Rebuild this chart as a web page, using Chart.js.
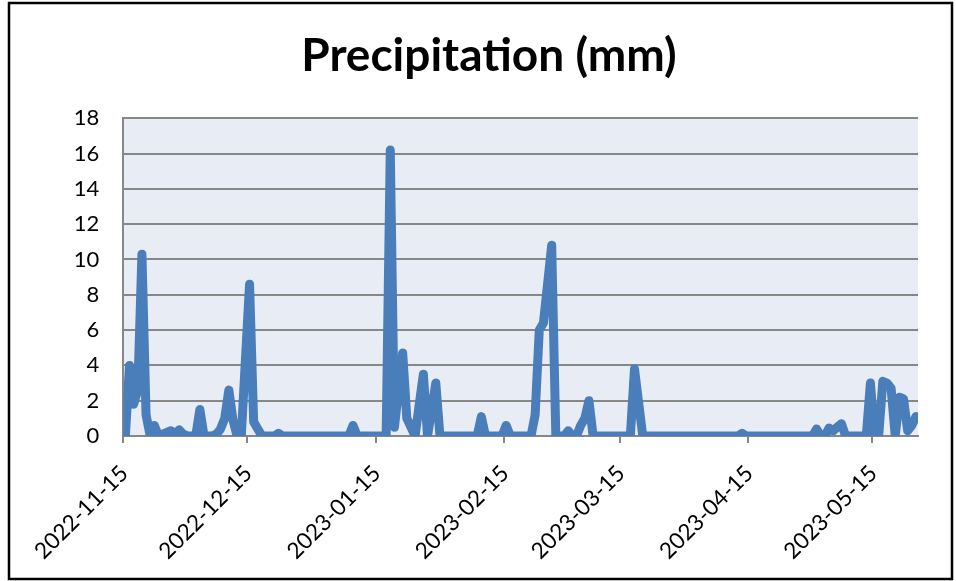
<!DOCTYPE html>
<html>
<head>
<meta charset="utf-8">
<script src="https://cdn.jsdelivr.net/npm/chart.js@4/dist/chart.umd.min.js"></script>
<style>
  html, body { margin: 0; padding: 0; background: #ffffff; }
  #wrap { position: relative; width: 956px; height: 581px; }
</style>
</head>
<body>
<div id="wrap"><canvas id="c" width="956" height="581"></canvas></div>
<script>
// Daily precipitation, one value per day starting at startDate
const startDate = '2022-11-15';
const precipitation = [
  0, 4.0, 1.8, 2.6, 10.3, 1.2, 0, 0.6, 0, 0.1,
  0.2, 0.3, 0.1, 0.35, 0.1, 0, 0, 0, 1.5, 0,
  0, 0, 0.1, 0.4, 1.0, 2.6, 0.9, 0, 0, 4.3,
  8.6, 0.8, 0.4, 0, 0, 0, 0, 0.15, 0, 0,
  0, 0, 0, 0, 0, 0, 0, 0, 0, 0,
  0, 0, 0, 0, 0, 0.6, 0, 0, 0, 0,
  0, 0, 0, 0, 16.2, 0.5, 2.6, 4.7, 1.0, 0.5,
  0, 1.8, 3.5, 0, 1.5, 3.0, 0, 0, 0, 0,
  0, 0, 0, 0, 0, 0, 1.1, 0, 0, 0,
  0, 0, 0.6, 0, 0, 0, 0, 0, 0, 1.2,
  6.0, 6.4, 8.6, 10.8, 0, 0, 0, 0.3, 0, 0,
  0.6, 1.0, 2.0, 0, 0, 0, 0, 0, 0, 0,
  0, 0, 0, 3.8, 1.9, 0, 0, 0, 0, 0,
  0, 0, 0, 0, 0, 0, 0, 0, 0, 0,
  0, 0, 0, 0, 0, 0, 0, 0, 0, 0.15,
  0, 0, 0, 0, 0, 0, 0, 0, 0, 0,
  0, 0, 0, 0, 0, 0, 0, 0.4, 0, 0,
  0.45, 0.3, 0.5, 0.7, 0, 0, 0, 0, 0, 0,
  3.0, 0, 0, 3.1, 3.0, 2.7, 0, 2.2, 2.1, 0.3,
  0.6, 1.1
];
const tickLabels = ['2022-11-15', '2022-12-15', '2023-01-15', '2023-02-15', '2023-03-15', '2023-04-15', '2023-05-15'];
const yMin = 0, yMax = 18, yStep = 2;

const DAY = 86400000;
const dayIndex = (d) => Math.round((Date.parse(d) - Date.parse(startDate)) / DAY);
const tickDays = tickLabels.map(dayIndex);

// each day's value sits in the middle of its one-day slot
const points = precipitation.map((v, i) => ({ x: i + 0.5, y: v }));

const plotBackground = {
  id: 'plotBackground',
  beforeDraw(chart) {
    const { ctx, chartArea: a } = chart;
    ctx.save();
    ctx.fillStyle = '#E8ECF4';
    ctx.fillRect(a.left, a.top, a.right - a.left, a.bottom - a.top);
    ctx.restore();
  }
};

const outerFrame = {
  id: 'outerFrame',
  afterDraw(chart) {
    const ctx = chart.ctx;
    ctx.save();
    ctx.strokeStyle = '#000000';
    ctx.lineWidth = 2.5;
    ctx.strokeRect(9, 3, 943, 576);
    ctx.restore();
  }
};

const gridGrey = '#878787';

new Chart(document.getElementById('c'), {
  type: 'line',
  data: {
    datasets: [{
      label: 'Precipitation (mm)',
      data: points,
      borderColor: '#4A7EBB',
      borderWidth: 9,
      borderJoinStyle: 'round',
      borderCapStyle: 'round',
      pointRadius: 0,
      tension: 0,
      fill: false
    }]
  },
  options: {
    responsive: false,
    animation: false,
    devicePixelRatio: 1,
    layout: { padding: { left: 60, right: 38, top: 0, bottom: 5 } },
    plugins: {
      legend: { display: false },
      tooltip: { enabled: false },
      title: {
        display: true,
        text: 'Precipitation (mm)',
        color: '#000000',
        font: { family: 'Lato', weight: 'bold', size: 46, lineHeight: 1.2 },
        padding: { top: 29, bottom: 34 }
      }
    },
    scales: {
      x: {
        type: 'linear',
        min: 0,
        max: precipitation.length,
        afterBuildTicks: (s) => { s.ticks = tickDays.map(v => ({ value: v })); },
        afterFit: (s) => { s.height = 140; },
        ticks: {
          autoSkip: false,
          minRotation: 45,
          maxRotation: 45,
          color: '#000000',
          font: { family: 'Lato', size: 22.5 },
          padding: 17,
          labelOffset: 1,
          callback: (v) => tickLabels[tickDays.indexOf(v)]
        },
        grid: { drawOnChartArea: false, color: gridGrey, lineWidth: 2, tickLength: 7 },
        border: { color: gridGrey, width: 2 }
      },
      y: {
        min: yMin,
        max: yMax,
        afterFit: (s) => { s.width = 63.3; },
        ticks: { stepSize: yStep, color: '#000000', font: { family: 'Lato', size: 22 }, padding: 24 },
        grid: { color: gridGrey, lineWidth: 2, drawTicks: false },
        border: { color: gridGrey, width: 2 }
      }
    }
  },
  plugins: [plotBackground, outerFrame]
});
</script>
</body>
</html>
